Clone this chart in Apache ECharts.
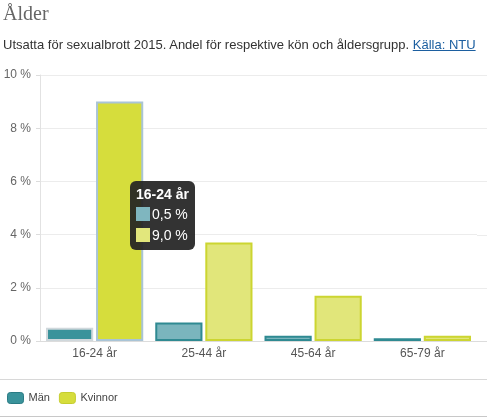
<!DOCTYPE html>
<html>
<head>
<meta charset="utf-8">
<script src="https://cdn.jsdelivr.net/npm/echarts@6/dist/echarts.min.js"></script>
<style>
  html, body { margin: 0; padding: 0; background: #fff; }
  #wrap { position: relative; width: 487px; height: 418px; }
  #chart { position: absolute; left: 0; top: 0; width: 487px; height: 418px; }
  .rubrik { position: absolute; left: 3px; top: 2px; font-family: "Liberation Serif", serif; font-size: 20px; color: #666; }
  .under { position: absolute; left: 3px; top: 37px; font-family: "Liberation Sans", Arial, sans-serif; font-size: 13px; color: #333; white-space: nowrap; }
  .under a { color: #1c5fa0; text-decoration: underline; }
</style>
</head>
<body>
<div id="wrap">
  <div id="chart"></div>
  <div class="rubrik">Ålder</div>
  <div class="under">Utsatta för sexualbrott 2015. Andel för respektive kön och åldersgrupp. <a href="#">Källa: NTU</a></div>
</div>
<script>
// data
var kategorier = ['16-24 år', '25-44 år', '45-64 år', '65-79 år'];
var man = [0.5, 0.7, 0.2, 0.1];
var kvinnor = [9.0, 3.7, 1.7, 0.2];
var yTicks = [0, 2, 4, 6, 8, 10];

var aktiv = 0; // markerad grupp (hover)

var myChart = echarts.init(document.getElementById('chart'));

function fmt(v) {
	return v.toFixed(1).replace('.', ',') + ' %';
}

//bygg staplar, den markerade gruppen får mörkare färg
function bygg(values, normal, hover) {
	return values.map(function(v, i){
		return { value: v, itemStyle: i == aktiv ? hover : normal };
	});
}

var rad = 'font:14px Liberation Sans,Arial;color:#fff;line-height:21px';
var ruta = 'display:inline-block;width:14px;height:14px;vertical-align:-2px;margin-right:2px;background:';

myChart.setOption({
	animation: false,
	textStyle: { fontFamily: '"Liberation Sans", Arial, sans-serif' },
	grid: { left: 40, right: 10, top: 75, bottom: 77 },
	tooltip: {
		trigger: 'axis',
		triggerOn: 'none',
		alwaysShowContent: true,
		axisPointer: { type: 'none' },
		backgroundColor: 'rgba(35,35,35,0.93)',
		borderWidth: 0,
		padding: [3, 6, 4, 6],
		extraCssText: 'border-radius:6px;box-shadow:none;',
		position: function(){ return [130, 181]; },
		formatter: function(params){
			var i = params[0].dataIndex;
			var s = '<div style="font:bold 14px Liberation Sans,Arial;color:#fff;line-height:20px">' + kategorier[i] + '</div>';
			s += '<div style="' + rad + '"><span style="' + ruta + '#7fb6bf"></span>' + fmt(man[i]) + '</div>';
			s += '<div style="' + rad + '"><span style="' + ruta + '#e2e77c"></span>' + fmt(kvinnor[i]) + '</div>';
			return s;
		}
	},
	legend: {
		left: 2,
		top: 387,
		itemWidth: 16,
		itemHeight: 11,
		itemGap: 9,
		icon: 'roundRect',
		textStyle: { fontSize: 11, color: '#444' },
		data: [
			{ name: 'Män', itemStyle: { color: '#3a939b', borderColor: '#2a7b84', borderWidth: 1 } },
			{ name: 'Kvinnor', itemStyle: { color: '#d6dd3c', borderColor: '#c5cd2f', borderWidth: 1 } }
		]
	},
	xAxis: {
		type: 'category',
		data: kategorier,
		axisLine: { lineStyle: { color: '#dcdcdc' } },
		axisTick: { length: 4, lineStyle: { color: '#dcdcdc' } },
		axisLabel: { color: '#555', fontSize: 12, margin: 7 }
	},
	yAxis: {
		type: 'value',
		min: yTicks[0],
		max: yTicks[yTicks.length - 1],
		interval: 2,
		axisLine: { show: true, lineStyle: { color: '#e2e2e2' } },
		axisTick: { show: true, length: 4, lineStyle: { color: '#dcdcdc' } },
		axisLabel: { color: '#666', fontSize: 12, margin: 9, formatter: '{value} %' },
		splitLine: { lineStyle: { color: '#ececec' } }
	},
	series: [
		{
			name: 'Män',
			type: 'bar',
			barGap: '6%',
			barCategoryGap: '11%',
			emphasis: { disabled: true },
			data: bygg(man,
				{ color: '#7ab5bd', borderColor: '#2f8a92', borderWidth: 2 },
				{ color: '#3a939b', borderColor: '#d0d8dc', borderWidth: 2 })
		},
		{
			name: 'Kvinnor',
			type: 'bar',
			emphasis: { disabled: true },
			data: bygg(kvinnor,
				{ color: '#e1e67a', borderColor: '#ccd531', borderWidth: 2 },
				{ color: '#d6dd3c', borderColor: '#a9c4d6', borderWidth: 2 })
		}
	]
});

//rutnätet går ut till kanten, förläng linjerna efter sista kategorin
var linjer = [
	{ type: 'line', shape: { x1: 0, y1: 379.5, x2: 487, y2: 379.5 }, style: { stroke: '#d8d8d8', lineWidth: 1 } },
	{ type: 'line', shape: { x1: 0, y1: 416.5, x2: 487, y2: 416.5 }, style: { stroke: '#c8c8c8', lineWidth: 1 } }
];
yTicks.forEach(function(t){
	var y = Math.round(myChart.convertToPixel({ yAxisIndex: 0 }, t)) + 0.5;
	linjer.push({ type: 'line', silent: true, shape: { x1: 477, y1: y, x2: 487, y2: y },
		style: { stroke: t == 0 ? '#dcdcdc' : '#ececec', lineWidth: 1 } });
});
myChart.setOption({ graphic: linjer });

myChart.dispatchAction({ type: 'showTip', seriesIndex: 0, dataIndex: aktiv });
</script>
</body>
</html>
